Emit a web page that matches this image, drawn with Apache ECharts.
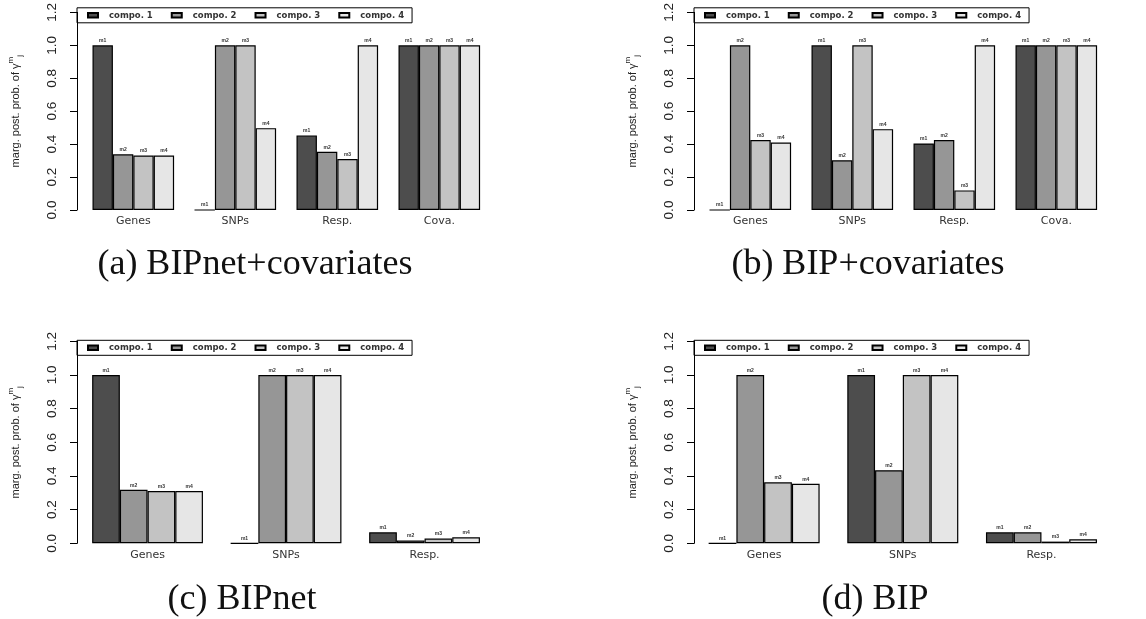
<!DOCTYPE html>
<html>
<head>
<meta charset="utf-8">
<script src="https://cdn.jsdelivr.net/npm/echarts@6/dist/echarts.min.js"></script>
<style>
  html, body { margin: 0; padding: 0; background: #fff; }
  #chart { width: 1146px; height: 619px; }
</style>
</head>
<body>
<div id="chart"></div>
<script>
// data
var compoNames = ['compo. 1', 'compo. 2', 'compo. 3', 'compo. 4'];
var barTags = ['m1', 'm2', 'm3', 'm4'];
var topCategories = ['Genes', 'SNPs', 'Resp.', 'Cova.'];
var bottomCategories = ['Genes', 'SNPs', 'Resp.'];
var captions = ['(a) BIPnet+covariates', '(b) BIP+covariates', '(c) BIPnet', '(d) BIP'];

// one row per component, one column per category
var bipnetCov = [
    [1.0, 0.0, 0.453, 1.0],
    [0.338, 1.0, 0.354, 1.0],
    [0.331, 1.0, 0.31, 1.0],
    [0.331, 0.497, 1.0, 1.0]
];
var bipCov = [
    [0.0, 1.0, 0.404, 1.0],
    [1.0, 0.302, 0.425, 1.0],
    [0.425, 1.0, 0.119, 1.0],
    [0.41, 0.491, 1.0, 1.0]
];
var bipnet = [
    [1.0, 0.0, 0.065],
    [0.318, 1.0, 0.016],
    [0.311, 1.0, 0.028],
    [0.311, 1.0, 0.036]
];
var bip = [
    [0.0, 1.0, 0.065],
    [1.0, 0.434, 0.065],
    [0.362, 1.0, 0.01],
    [0.354, 1.0, 0.024]
];

var compoColors = ['#4d4d4d', '#969696', '#c3c3c3', '#e6e6e6'];

// layout of the four panels
var panels = [
    { data: bipnetCov, cats: topCategories, left: 82.3, top: 8.8, width: 408, height: 201.2, offset: 5.3, barW: 20.4, capX: 255, capY: 265 },
    { data: bipCov, cats: topCategories, left: 699.3, top: 8.8, width: 408, height: 201.2, offset: 5.3, barW: 20.4, capX: 868, capY: 265 },
    { data: bipnet, cats: bottomCategories, left: 78.3, top: 341.3, width: 415.5, height: 202, offset: 1.3, barW: 27.7, capX: 242, capY: 600 },
    { data: bip, cats: bottomCategories, left: 694.8, top: 341.3, width: 416, height: 202, offset: 0.8, barW: 27.75, capX: 875, capY: 600 }
];

var grids = [], xAxes = [], yAxes = [], legends = [], series = [], graphics = [];

panels.forEach(function(p, pi) {
    grids.push({ left: p.left, top: p.top, width: p.width, height: p.height, containLabel: false });

    xAxes.push({
        type: 'category',
        gridIndex: pi,
        data: p.cats,
        axisLine: { show: false },
        axisTick: { show: false },
        axisLabel: { fontFamily: 'DejaVu Sans', fontSize: 11, color: '#333', margin: 6 }
    });

    yAxes.push({
        type: 'value',
        gridIndex: pi,
        min: 0,
        max: 1.2,
        interval: 0.2,
        offset: p.offset,
        splitLine: { show: false },
        axisLine: { show: true, lineStyle: { color: '#000', width: 1 } },
        axisTick: { show: true, length: 7, lineStyle: { color: '#000' } },
        axisLabel: {
            rotate: 90,
            margin: 18,
            fontFamily: 'Liberation Sans',
            fontSize: 13.5,
            color: '#222',
            formatter: function(v) { return v.toFixed(1); }
        },
        name: 'marg. post. prob. of γ{sp|m}{sb|j}',
        nameLocation: 'middle',
        nameRotate: 90,
        nameGap: 53,
        nameTextStyle: {
            fontFamily: 'Liberation Sans',
            fontSize: 11,
            color: '#222',
            lineHeight: 17,
            rich: {
                sp: { fontSize: 8, verticalAlign: 'top', color: '#222', fontFamily: 'Liberation Sans' },
                sb: { fontSize: 8, verticalAlign: 'bottom', color: '#222', fontFamily: 'Liberation Sans' }
            }
        }
    });

    legends.push({
        data: compoNames,
        left: p.left - p.offset,
        top: p.top - 1,
        orient: 'horizontal',
        icon: 'rect',
        itemWidth: 10,
        itemHeight: 4.5,
        itemGap: 18,
        padding: [3, 8, 3, 10],
        borderColor: '#000',
        borderWidth: 1,
        selectedMode: false,
        textStyle: {
            fontFamily: 'DejaVu Sans',
            fontWeight: 'bold',
            fontSize: 8.5,
            color: '#333',
            padding: [0, 0, 0, 6]
        }
    });

    compoNames.forEach(function(name, k) {
        series.push({
            type: 'bar',
            name: name,
            xAxisIndex: pi,
            yAxisIndex: pi,
            data: p.data[k],
            barWidth: p.barW,
            barGap: '0%',
            animation: false,
            itemStyle: { color: compoColors[k], borderColor: '#000', borderWidth: 1.2 },
            label: {
                show: true,
                position: 'top',
                distance: 2,
                formatter: barTags[k],
                fontFamily: 'Liberation Sans',
                fontWeight: 'bold',
                fontSize: 5,
                color: '#333'
            }
        });
    });

    graphics.push({
        type: 'text',
        x: p.capX,
        y: p.capY,
        style: {
            text: captions[pi],
            font: '36px "Liberation Serif"',
            fill: '#111',
            align: 'center',
            verticalAlign: 'middle'
        }
    });
});

var chart = echarts.init(document.getElementById('chart'));
chart.setOption({
    animation: false,
    grid: grids,
    xAxis: xAxes,
    yAxis: yAxes,
    legend: legends,
    series: series,
    graphic: graphics
});
</script>
</body>
</html>
